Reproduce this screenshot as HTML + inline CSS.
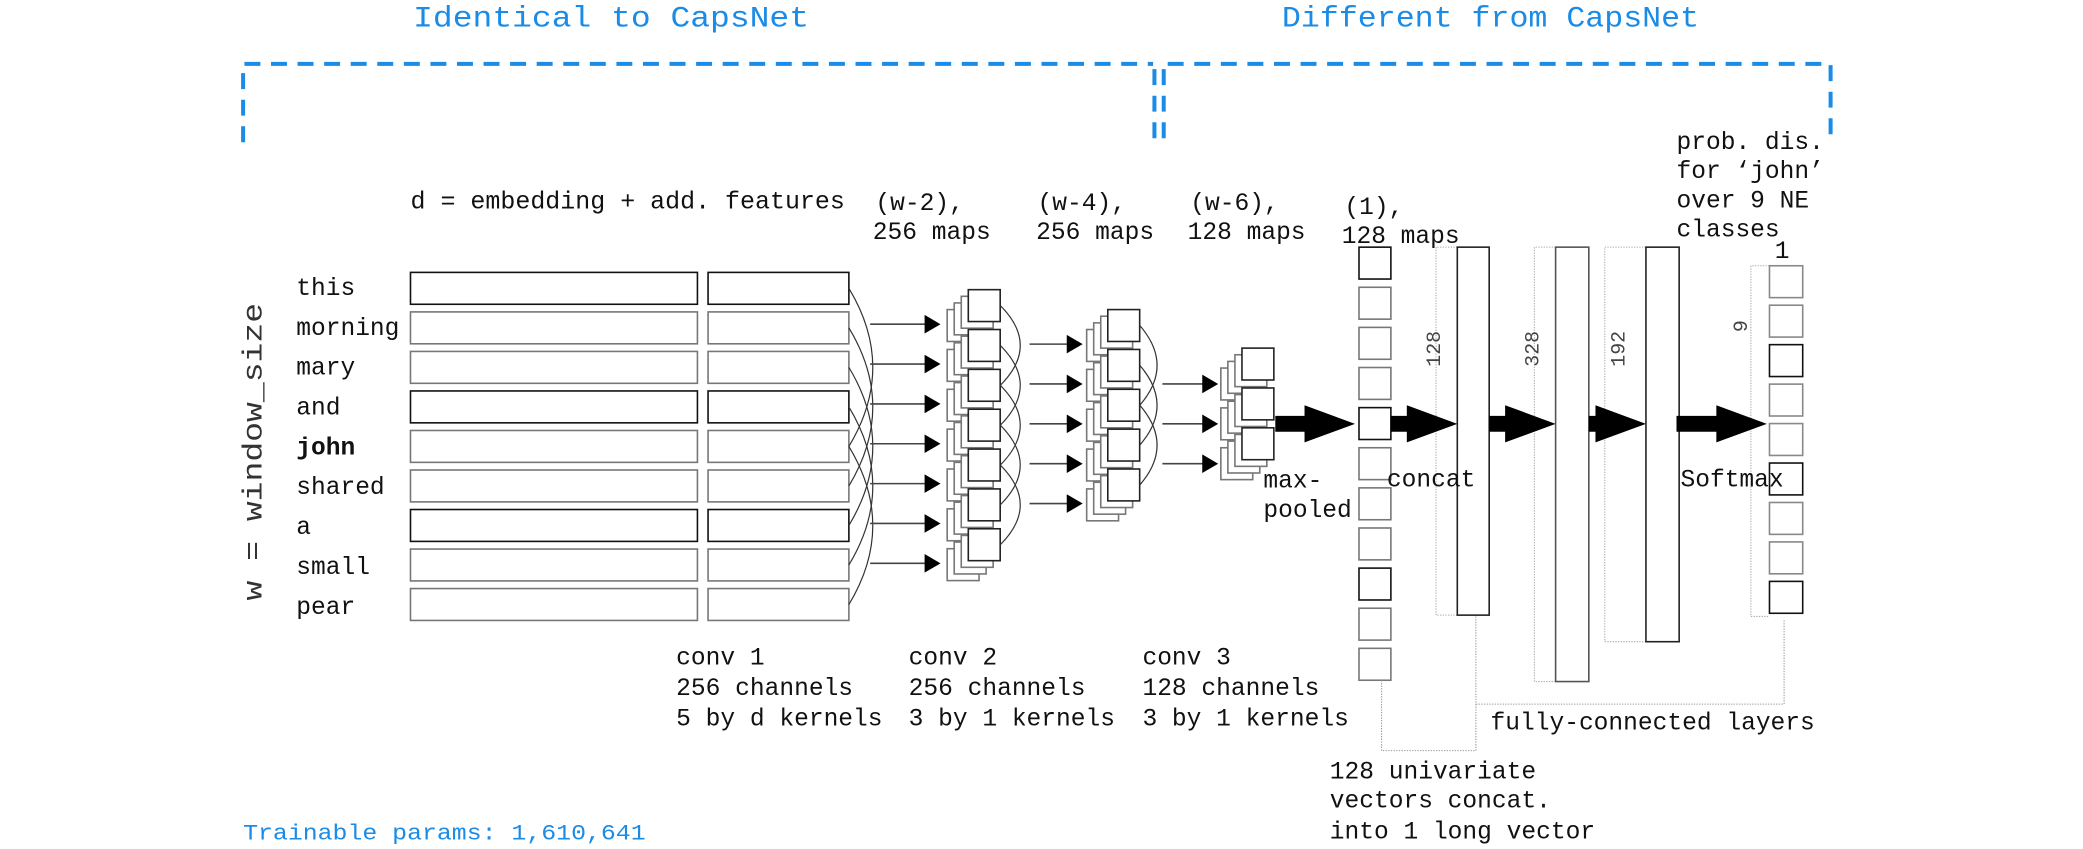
<!DOCTYPE html>
<html><head><meta charset="utf-8"><style>
html,body{margin:0;padding:0;background:#fff;}
svg{display:block;}
text{font-family:"Liberation Mono",monospace;fill:#111;}
</style></head><body>
<svg id="s" width="2083" height="849" viewBox="0 0 1568 639" xmlns="http://www.w3.org/2000/svg">
<rect width="1568" height="639" fill="#fff"/>
<g font-size="22" style="fill:#1a8be6">
<text x="311" y="20" style="fill:#1a8be6" textLength="298" lengthAdjust="spacingAndGlyphs">Identical to CapsNet</text>
<text x="965" y="20" style="fill:#1a8be6" textLength="314" lengthAdjust="spacingAndGlyphs">Different from CapsNet</text>
<text x="183" y="632" font-size="17" style="fill:#1a8be6" textLength="303" lengthAdjust="spacingAndGlyphs">Trainable params: 1,610,641</text>
</g>
<g stroke="#1a8be6" stroke-width="3" fill="none" stroke-dasharray="12,8">
<path d="M183,107 V48 H868"/>
<path d="M869,52 V107"/>
<path d="M876,52 V107"/>
<path d="M879,48 H1378 V108"/>
</g>
<g id="g"></g>
<g font-size="18.5">
<text x="309" y="157" textLength="327" lengthAdjust="spacingAndGlyphs">d = embedding + add. features</text>
<text x="659" y="158">(w-2),</text><text x="657" y="180">256 maps</text>
<text x="781" y="158">(w-4),</text><text x="780" y="180">256 maps</text>
<text x="896" y="158">(w-6),</text><text x="894" y="180">128 maps</text>
<text x="1012" y="161">(1),</text><text x="1010" y="183">128 maps</text>
<text x="1262" y="112">prob. dis.</text>
<text x="1262" y="134">for ‘john’</text>
<text x="1262" y="156">over 9 NE</text>
<text x="1262" y="178">classes</text>
<text x="1336" y="194">1</text>
<text x="223" y="222">this</text>
<text x="223" y="252">morning</text>
<text x="223" y="282">mary</text>
<text x="223" y="312">and</text>
<text x="223" y="342" font-weight="bold">john</text>
<text x="223" y="372">shared</text>
<text x="223" y="402">a</text>
<text x="223" y="432">small</text>
<text x="223" y="462">pear</text>
<text x="951" y="367">max-</text><text x="951" y="389">pooled</text>
<text x="1044" y="366">concat</text>
<text x="1265" y="366">Softmax</text>
<text x="509" y="500">conv 1</text><text x="509" y="523">256 channels</text><text x="509" y="546">5 by d kernels</text>
<text x="684" y="500">conv 2</text><text x="684" y="523">256 channels</text><text x="684" y="546">3 by 1 kernels</text>
<text x="860" y="500">conv 3</text><text x="860" y="523">128 channels</text><text x="860" y="546">3 by 1 kernels</text>
<text x="1122" y="549">fully-connected layers</text>
<text x="1001" y="586">128 univariate</text>
<text x="1001" y="608">vectors concat.</text>
<text x="1001" y="631">into 1 long vector</text>
<text transform="translate(197,452) rotate(-90)" font-size="21" textLength="224" lengthAdjust="spacingAndGlyphs" style="fill:#333">w = window_size</text>
<text transform="translate(1084,276) rotate(-90)" font-size="15" style="fill:#444">128</text>
<text transform="translate(1158,276) rotate(-90)" font-size="15" style="fill:#444">328</text>
<text transform="translate(1223,276) rotate(-90)" font-size="15" style="fill:#444">192</text>
<text transform="translate(1315,250) rotate(-90)" font-size="15" style="fill:#444">9</text>
</g>
</svg>
<script>
var g=document.getElementById('g'),h='';
function R(x,y,w,hh,c){h+='<rect x="'+x+'" y="'+y+'" width="'+w+'" height="'+hh+'" fill="#fff" stroke="'+(c||'#222')+'" stroke-width="1.2"/>';}
function L(d,c,w,da){h+='<path d="'+d+'" fill="none" stroke="'+(c||'#222')+'" stroke-width="'+(w||1)+'"'+(da?' stroke-dasharray="'+da+'"':'')+'/>';}
function Ar(x1,x2,y){L('M'+x1+','+y+' H'+(x2-11),'#444',1.2);h+='<path d="M'+(x2-12)+','+(y-7)+' L'+x2+','+y+' L'+(x2-12)+','+(y+7)+' Z" fill="#000"/>';}
function BA(x1,x2,y){var hx=x2-38;h+='<path d="M'+x1+','+(y-6)+' H'+hx+' V'+(y-14)+' L'+x2+','+y+' L'+hx+','+(y+14)+' V'+(y+6)+' H'+x1+' Z" fill="#000"/>';}
function arc(x,y1,y2,b){L('M'+x+','+y1+' Q'+(x+b)+','+((y1+y2)/2)+' '+x+','+y2,'#333',0.9);}
// stack keyed by arrow y a: front top = a-26
function stack(x,a){for(var k=0;k<4;k++){R(x+k*5.3,a-11-k*5,24,24,k==3?'#222':'#777');}}
for(var i=0;i<9;i++){var y=205+i*29.75;R(309,y,216,24,i%3==0?'#111':'#777');R(533,y,106,24,i%3==0?'#111':'#777');}
var rc=function(i){return 217+i*29.75;};
for(var i=0;i<5;i++)arc(639,rc(i),rc(i+4),36);
var a2=[];for(var i=0;i<7;i++)a2.push(244+i*30);
for(var i=0;i<7;i++)Ar(655,708,a2[i]);
for(var i=0;i<7;i++)stack(713,a2[i]);
for(var i=0;i<5;i++)arc(753,a2[i]-14,a2[i+2]-14,30);
var a3=[];for(var i=0;i<5;i++)a3.push(259+i*30);
for(var i=0;i<5;i++)Ar(775,815,a3[i]);
for(var i=0;i<5;i++)stack(818,a3[i]);
for(var i=0;i<3;i++)arc(858,a3[i]-14,a3[i+2]-14,26);
var a4=[289,319,349];
for(var i=0;i<3;i++)Ar(875,917,a4[i]);
for(var i=0;i<3;i++)stack(919,a4[i]-1);
for(var i=0;i<11;i++)R(1023,186+i*30.2,24,24,i%4==0?'#111':'#777');
L('M1097,186 H1081 V463 H1097','#aaa',0.8,'1,1');
L('M1171,186 H1155 V513 H1171','#aaa',0.8,'1,1');
L('M1239,186 H1208 V483 H1239','#aaa',0.8,'1,1');
L('M1332,200 H1318 V464 H1332','#aaa',0.8,'1,1');
R(1097,186,24,277);R(1171,186,25,327,'#555');R(1239,186,25,297);
for(var i=0;i<9;i++)R(1332,200+i*29.7,25,24,i%3==2?'#111':'#888');
L('M1040,512 V565 H1111 V463','#999',0.8,'1,1');
L('M1111,530 H1343 V466','#999',0.8,'1,1');
BA(960,1020,319);BA(1047,1097,319);BA(1121,1171,319);BA(1196,1239,319);BA(1262,1330,319);
g.innerHTML=h;
</script>
</body></html>
